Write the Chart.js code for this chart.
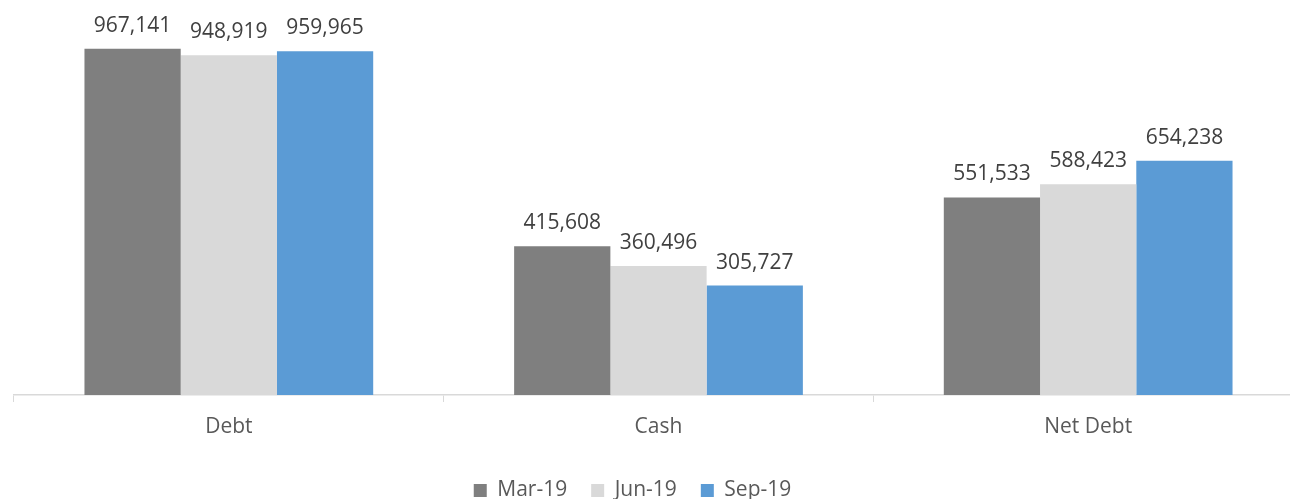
<!DOCTYPE html>
<html>
<head>
<meta charset="utf-8">
<script src="https://cdn.jsdelivr.net/npm/chart.js@4.4.0/dist/chart.umd.min.js"></script>
<style>
  html, body { margin: 0; padding: 0; background: #ffffff; overflow: hidden; }
  #wrap { width: 1304px; height: 499px; position: relative; }
</style>
</head>
<body>
<div id="wrap"><canvas id="c"></canvas></div>
<script>
const categories = ["Debt", "Cash", "Net Debt"];
const seriesNames = ["Mar-19", "Jun-19", "Sep-19"];
const mar19 = [967141, 415608, 551533];
const jun19 = [948919, 360496, 588423];
const sep19 = [959965, 305727, 654238];
const seriesColors = ["#7f7f7f", "#d9d9d9", "#5b9bd5"];

const FONT = "'Open Sans', 'DejaVu Sans', sans-serif";
const AXIS_Y = 395;

const dataLabels = {
  id: 'dataLabels',
  afterDatasetsDraw(chart) {
    const ctx = chart.ctx;
    ctx.save();
    ctx.font = "21px " + FONT;
    ctx.fillStyle = "#404040";
    ctx.textAlign = "center";
    ctx.textBaseline = "alphabetic";
    chart.data.datasets.forEach((ds, i) => {
      const meta = chart.getDatasetMeta(i);
      meta.data.forEach((bar, j) => {
        ctx.fillText(ds.data[j].toLocaleString('en-US'), bar.x, bar.y - 17);
      });
    });
    ctx.restore();
  }
};

const legendShift = {
  id: 'legendShift',
  afterLayout(chart) {
    const lg = chart.legend;
    if (lg) {
      lg.left -= 26; lg.right -= 26;
      lg.top += 12; lg.bottom += 12;
    }
  }
};

new Chart(document.getElementById('c'), {
  type: 'bar',
  data: {
    labels: categories,
    datasets: [
      { label: seriesNames[0], data: mar19, backgroundColor: seriesColors[0] },
      { label: seriesNames[1], data: jun19, backgroundColor: seriesColors[1] },
      { label: seriesNames[2], data: sep19, backgroundColor: seriesColors[2] }
    ]
  },
  options: {
    responsive: true,
    maintainAspectRatio: false,
    animation: false,
    layout: { padding: { left: 14, right: 1, top: 0, bottom: 0 } },
    datasets: { bar: { barPercentage: 1.0, categoryPercentage: 0.672 } },
    scales: {
      x: {
        grid: { display: true, drawOnChartArea: false, drawTicks: true, tickLength: 7, color: "#d9d9d9", offset: true },
        border: { display: true, color: "#d9d9d9", width: 1.5 },
        ticks: { color: "#595959", font: { family: FONT, size: 21 }, padding: 12 },
        afterFit(scale) {
          const lgH = scale.chart.legend ? scale.chart.legend.height : 0;
          scale.height = (scale.chart.height - lgH) - AXIS_Y;
        }
      },
      y: {
        display: false,
        min: 0,
        max: 1103000
      }
    },
    plugins: {
      legend: {
        position: 'bottom',
        labels: {
          color: "#595959",
          font: { family: FONT, size: 21 },
          boxWidth: 13,
          boxHeight: 13,
          padding: 24
        }
      },
      tooltip: { enabled: false }
    }
  },
  plugins: [dataLabels, legendShift]
});
</script>
</body>
</html>
